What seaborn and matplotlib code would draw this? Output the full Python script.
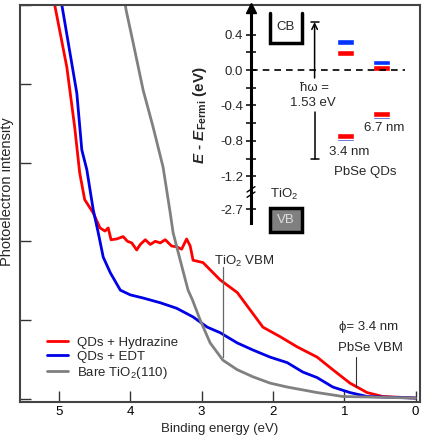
import numpy as np
import pandas as pd
import matplotlib.pyplot as plt
from matplotlib.patches import Rectangle
import seaborn as sns

sns.set_style('ticks')
plt.rcParams['font.family'] = ['Liberation Sans', 'DejaVu Sans']
plt.rcParams['mathtext.fontset'] = 'custom'
plt.rcParams['mathtext.rm'] = 'Liberation Sans'
plt.rcParams['mathtext.it'] = 'Liberation Sans:italic'
plt.rcParams['mathtext.bf'] = 'Liberation Sans:bold'
plt.rcParams['mathtext.bfit'] = 'Liberation Sans:bold:italic'

# photoemission spectra (binding energy in eV, intensity in arb. units)
hyd_be = [5.06, 4.89, 4.78, 4.71, 4.64, 4.52, 4.425, 4.355, 4.31, 4.27, 4.19, 4.10, 4.04, 3.98,
          3.91, 3.86, 3.79, 3.72, 3.65, 3.58, 3.51, 3.42, 3.35, 3.28, 3.21, 3.16, 3.12, 2.98,
          2.74, 2.50, 2.32, 2.14, 1.90, 1.66, 1.38, 1.16, 0.92, 0.68, 0.46, 0.0]
hyd_int = [5.0, 4.21, 3.45, 2.87, 2.53, 2.36, 2.17, 2.13, 2.17, 2.02, 2.03, 2.06, 2.00, 1.98,
           1.89, 1.96, 2.02, 1.96, 2.00, 1.98, 2.02, 1.94, 1.93, 1.90, 2.03, 1.94, 1.76, 1.73,
           1.51, 1.35, 1.13, 0.91, 0.79, 0.66, 0.53, 0.37, 0.20, 0.08, 0.03, 0.01]

edt_be = [4.96, 4.75, 4.68, 4.61, 4.52, 4.45, 4.38, 4.28, 4.14, 4.00, 3.82, 3.58, 3.35, 3.12, 2.92,
          2.74, 2.50, 2.28, 2.04, 1.80, 1.58, 1.38, 1.16, 0.92, 0.68, 0.0]
edt_int = [5.0, 3.88, 3.16, 2.91, 2.40, 2.11, 1.80, 1.60, 1.38, 1.32, 1.28, 1.22, 1.15, 1.04, 0.91,
           0.84, 0.71, 0.62, 0.53, 0.46, 0.34, 0.27, 0.15, 0.08, 0.03, 0.01]

tio2_be = [4.10, 4.06, 3.96, 3.82, 3.68, 3.54, 3.44, 3.40, 3.30, 3.19, 3.13, 3.02, 2.88, 2.70, 2.50,
           2.28, 2.04, 1.80, 1.38, 1.02, 0.5, 0.0]
tio2_int = [5.2, 4.94, 4.52, 3.92, 3.45, 2.94, 2.36, 2.11, 1.76, 1.38, 1.26, 1.00, 0.71, 0.49, 0.37,
            0.28, 0.20, 0.15, 0.08, 0.03, 0.02, 0.01]

series_labels = ['QDs + Hydrazine', 'QDs + EDT', 'Bare TiO$_2$(110)']
series_colors = ['#ff0000', '#0000e6', '#808080']

# energy level diagram (eV relative to E_Fermi)
qd_sizes = ['3.4 nm', '6.7 nm']
cb_edt = [0.315, 0.08]
cb_hyd = [0.19, 0.02]
vb_edt = [-0.765, -0.52]
vb_hyd = [-0.745, -0.50]
level_ticks = [0.4, 0.0, -0.4, -0.8, -1.2, -1.57]
level_ticklabels = ['0.4', '0.0', '-0.4', '-0.8', '-1.2', '-2.7']

df = pd.concat([
    pd.DataFrame({'be': hyd_be, 'inten': hyd_int, 'sample': series_labels[0]}),
    pd.DataFrame({'be': edt_be, 'inten': edt_int, 'sample': series_labels[1]}),
    pd.DataFrame({'be': tio2_be, 'inten': tio2_int, 'sample': series_labels[2]}),
])

W, H = 424, 438
fig = plt.figure(figsize=(W / 100, H / 100), dpi=100)
ax = fig.add_axes([20 / W, 1 - 402 / H, 400 / W, 397 / H])

sns.lineplot(data=df, x='be', y='inten', hue='sample', palette=series_colors,
             hue_order=series_labels, sort=False, estimator=None, lw=2, ax=ax)

ax.set_xlim(5.547, -0.063)
ax.set_ylim(-0.04, 5.0)
ax.set_xticks([5, 4, 3, 2, 1, 0])
ax.set_yticks([0, 1, 2, 3, 4, 5])
ax.set_yticklabels([])
ax.tick_params(direction='in', length=8, width=1, colors='#333333', labelsize=9.5, pad=3)
ax.tick_params(axis='x', labelcolor='black')
for s in ax.spines.values():
    s.set_linewidth(1.5)
    s.set_color('#444444')
ax.set_xlabel('Binding energy (eV)', fontsize=9.5)
ax.xaxis.set_label_coords(0.5, -0.053)
ax.set_ylabel('Photoelectron intensity', fontsize=10.5)
ax.yaxis.set_label_coords(-0.014, 0.53)

ax.legend(loc='upper left', bbox_to_anchor=(0.067, 0.165), frameon=False, fontsize=9.5,
          handlelength=1.6, handletextpad=0.7, labelspacing=0.15, borderpad=0, borderaxespad=0)

# annotations on spectra
ax.plot([2.70, 2.70], [0.53, 1.675], color='#666666', lw=0.9)
ax.text(2.83, 1.74, 'TiO$_2$ VBM', fontsize=9.5, ha='left', va='center')
ax.plot([0.835, 0.835], [0.15, 0.53], color='#333333', lw=0.8)
ax.text(1.07, 0.91, '\u03d5= 3.4 nm', fontsize=9.5, ha='left', va='center')
ax.text(1.09, 0.65, 'PbSe VBM', fontsize=9.5, ha='left', va='center')

# inset: energy level diagram
axi = fig.add_axes([251 / W, 1 - 222.6 / H, 159 / W, 214.6 / H])
axi.set_xlim(0, 1)
axi.set_ylim(-1.72, 0.699)
axi.patch.set_visible(False)
for k in ['top', 'right', 'bottom']:
    axi.spines[k].set_visible(False)
axi.spines['left'].set_linewidth(2.2)
axi.spines['left'].set_color('black')
axi.set_xticks([])
axi.set_yticks(level_ticks)
axi.set_yticklabels(level_ticklabels)
axi.set_yticks([0.2, -0.2, -0.6, -1.0], minor=True)
axi.tick_params(axis='y', which='both', direction='inout', length=7, width=1.3, labelsize=9.5, pad=2)
axi.plot([0], [0.699], marker='^', color='black', ms=7, clip_on=False)

# axis break
for dy in (-0.03, 0.03):
    axi.plot([-0.025, 0.025], [-1.405 + dy, -1.345 + dy], color='black', lw=1, clip_on=False)

axi.axhline(0, xmin=0, xmax=0.97, color='black', lw=1.2, ls=(0, (4, 3)))

# TiO2 CB / VB boxes
axi.plot([0.12, 0.12, 0.32, 0.32], [0.64, 0.30, 0.30, 0.64], color='black', lw=2.5,
         solid_joinstyle='miter')
axi.text(0.22, 0.48, 'CB', fontsize=9.5, ha='center', va='center')
axi.add_patch(Rectangle((0.12, -1.83), 0.20, 0.275, facecolor='#808080', edgecolor='black',
                        lw=2.5, clip_on=False))
axi.text(0.22, -1.69, 'VB', fontsize=9.5, ha='center', va='center', color='#dddddd')
axi.text(0.21, -1.40, 'TiO$_2$', fontsize=9.5, ha='center', va='center')

# photon energy arrow
axi.annotate('', xy=(0.40, 0.54), xytext=(0.40, -0.09),
             arrowprops=dict(arrowstyle='->', lw=1.1, color='black', shrinkA=0, shrinkB=0))
axi.plot([0.375, 0.425], [0.54, 0.54], color='black', lw=1.1)
axi.plot([0.40, 0.40], [-0.47, -1.0], color='black', lw=1.1)
axi.plot([0.375, 0.425], [-1.0, -1.0], color='black', lw=1.1)
axi.text(0.40, -0.20, '\u0127\u03c9 =', fontsize=9.5, ha='center', va='center')
axi.text(0.39, -0.37, '1.53 eV', fontsize=9.5, ha='center', va='center')

# QD levels
level_x = [0.595, 0.82]
bar_w = 0.11
bar_h = 0.07
axi.bar(level_x, [bar_h] * 2, bottom=[v - bar_h / 2 for v in cb_edt], width=bar_w, color='#0033ff')
axi.bar(level_x, [bar_h] * 2, bottom=[v - bar_h / 2 for v in cb_hyd], width=bar_w, color='#ff0000')
axi.bar(level_x, [bar_h] * 2, bottom=[v - bar_h / 2 for v in vb_edt], width=bar_w, color='#2233cc')
axi.bar(level_x, [bar_h] * 2, bottom=[v - bar_h / 2 for v in vb_hyd], width=bar_w, color='#ff0000')
axi.text(0.62, -0.92, qd_sizes[0], fontsize=9.5, ha='center', va='center')
axi.text(0.84, -0.65, qd_sizes[1], fontsize=9.5, ha='center', va='center')
axi.text(0.72, -1.15, 'PbSe QDs', fontsize=9.5, ha='center', va='center')

fig.text(200 / W, 1 - 115 / H, r'$\mathbfit{E}$ - $\mathbfit{E}_{\mathbf{Fermi}}$ (eV)',
         rotation=90, fontsize=11, fontweight='bold', ha='center', va='center')

fig.savefig('out.png', dpi=100)
